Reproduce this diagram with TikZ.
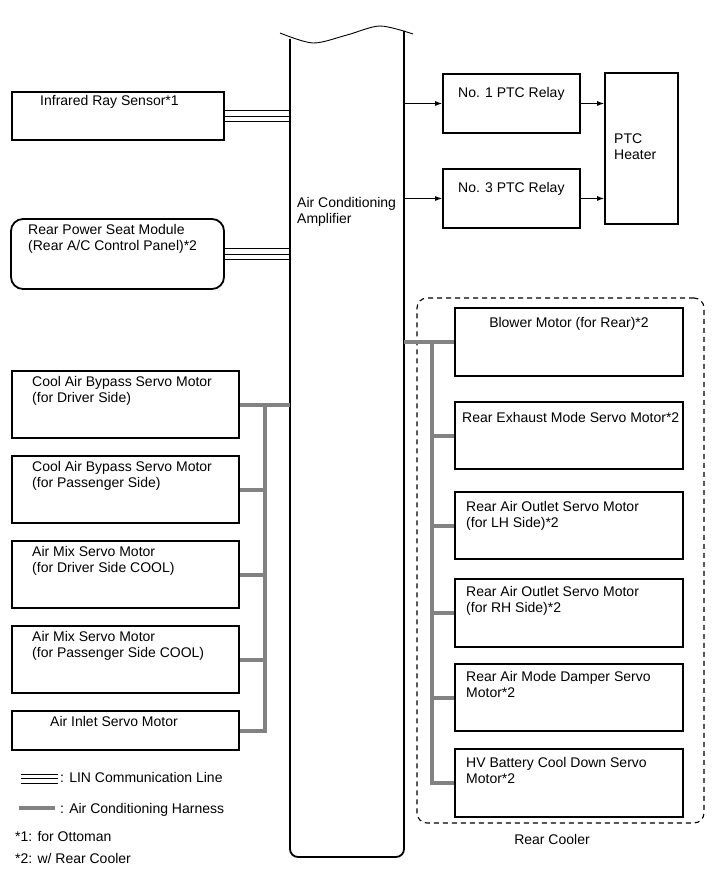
\documentclass[tikz,border=0pt]{standalone}
\usepackage{fontspec}
\setmainfont{Liberation Sans}
\usetikzlibrary{arrows.meta}
\definecolor{cinza}{RGB}{130,130,130}
\tikzset{
  caixa/.style 2 args={draw, line width=1.8pt, inner sep=0, minimum width=#1, minimum height=#2},
  texto/.style={anchor=north west, inner sep=0, align=left, font=\fontsize{14}{16}\selectfont},
  lin/.style={line width=0.8pt},
  chicote/.style={draw=cinza, line width=4pt},
  seta/.style={-{Latex[length=7pt,width=5pt]}, line width=0.9pt}
}
\begin{document}
\begin{tikzpicture}[x=1pt, y=-1pt]
      \useasboundingbox (0,0) rectangle (713,882);
      % Amplificador
      \node[inner sep=0, minimum width=114, minimum height=825] (amp) at (347,445) {};
      \draw[line width=1.8pt, rounded corners=8] (290,39) -- (290,857) -- (404,857) -- (404,31);
      \draw[line width=0.9pt] plot[smooth] coordinates {(280,33) (313,43) (347,35) (380,26) (413,34)};
      \node[texto] (tamp) at (297,197) {Air Conditioning\\Amplifier};
      % Sensores LIN
      \node[caixa={212}{48}] (ir) at (118,116) {};
      \node[texto] (tir) at (40,95) {Infrared Ray Sensor*1};
      \node[caixa={213}{70}, rounded corners=12] (rps) at (117.5,254) {};
      \node[texto] (trps) at (28,224) {Rear Power Seat Module\\(Rear A/C Control Panel)*2};
      \foreach \d in {5.5,0,-5.5} {
        \draw[lin] ([yshift=\d]ir.east) -- ([yshift=\d]ir.east -| amp.west);
        \draw[lin] ([yshift=\d]rps.east) -- ([yshift=\d]rps.east -| amp.west);
      }
      % Reles PTC
      \node[caixa={137}{59}] (r1) at (511.5,103.5) {};
      \node[texto] (tr1) at (458,87) {No. 1 PTC Relay};
      \node[caixa={137}{59}] (r3) at (511.5,198.5) {};
      \node[texto] (tr3) at (458,182) {No. 3 PTC Relay};
      \node[caixa={73}{151}] (ht) at (641.5,148.5) {};
      \node[texto] (tht) at (614,134) {PTC\\Heater};
      \draw[seta] (r1.west -| amp.east) -- (r1.west);
      \draw[seta] (r3.west -| amp.east) -- (r3.west);
      \draw[seta] (r1.east) -- (r1.east -| ht.west);
      \draw[seta] (r3.east) -- (r3.east -| ht.west);
      % Servos do lado esquerdo
      \node[caixa={227}{67}] (m1) at (125.5,404.5) {};
      \node[texto] (tm1) at (32,376) {Cool Air Bypass Servo Motor\\(for Driver Side)};
      \node[caixa={227}{67}] (m2) at (125.5,489.5) {};
      \node[texto] (tm2) at (32,461) {Cool Air Bypass Servo Motor\\(for Passenger Side)};
      \node[caixa={227}{67}] (m3) at (125.5,574.5) {};
      \node[texto] (tm3) at (32,546) {Air Mix Servo Motor\\(for Driver Side COOL)};
      \node[caixa={227}{67}] (m4) at (125.5,659.5) {};
      \node[texto] (tm4) at (32,631) {Air Mix Servo Motor\\(for Passenger Side COOL)};
      \node[caixa={227}{39}] (m5) at (125.5,730.5) {};
      \node[texto] (tm5) at (50,716) {Air Inlet Servo Motor};
      \coordinate (be) at (265,404.5);
      \draw[chicote] (m1.east) -- (m1.east -| amp.west);
      \draw[chicote] (be) |- (m5.east);
      \foreach \m in {m2,m3,m4}
        \draw[chicote] (\m.east) -- (\m.east -| be);
      % Rear Cooler
      \node[draw, line width=1.1pt, dash pattern=on 5pt off 4pt, rounded corners=10, minimum width=287, minimum height=525] (rc) at (560.5,560.5) {};
      \node[anchor=north, inner sep=0, font=\fontsize{14}{16}\selectfont] (trc) at (552,834) {Rear Cooler};
      \node[caixa={228}{68}] (s1) at (569,342) {};
      \node[anchor=north, inner sep=0, font=\fontsize{14}{16}\selectfont] (ts1) at (569,317) {Blower Motor (for Rear)*2};
      \node[caixa={228}{67}] (s2) at (569,435.5) {};
      \node[texto] (ts2) at (462,412) {Rear Exhaust Mode Servo Motor*2};
      \node[caixa={228}{67}] (s3) at (569,525.5) {};
      \node[texto] (ts3) at (466,501) {Rear Air Outlet Servo Motor\\(for LH Side)*2};
      \node[caixa={228}{68}] (s4) at (569,613) {};
      \node[texto] (ts4) at (466,586) {Rear Air Outlet Servo Motor\\(for RH Side)*2};
      \node[caixa={228}{67}] (s5) at (569,697.5) {};
      \node[texto] (ts5) at (466,671) {Rear Air Mode Damper Servo\\Motor*2};
      \node[caixa={228}{68}] (s6) at (569,783) {};
      \node[texto] (ts6) at (466,757) {HV Battery Cool Down Servo\\Motor*2};
      \coordinate (bd) at (432,342);
      \draw[chicote] (s1.west -| amp.east) -- (s1.west);
      \draw[chicote] (bd) |- (s6.west);
      \foreach \s in {s2,s3,s4,s5}
        \draw[chicote] (\s.west -| bd) -- (\s.west);
      % Legenda
      \foreach \y in {774,778.5,783}
        \draw[lin] (21,\y) -- (58,\y);
      \node[texto] (l1) at (60,772) {: LIN Communication Line};
      \draw[draw=cinza, line width=4pt] (19,808) -- (55,808);
      \node[texto] (l2) at (60,803) {: Air Conditioning Harness};
      \node[texto] (l3) at (15,831) {*1: for Ottoman};
      \node[texto] (l4) at (15,853) {*2: w/ Rear Cooler};
\end{tikzpicture}
\end{document}
